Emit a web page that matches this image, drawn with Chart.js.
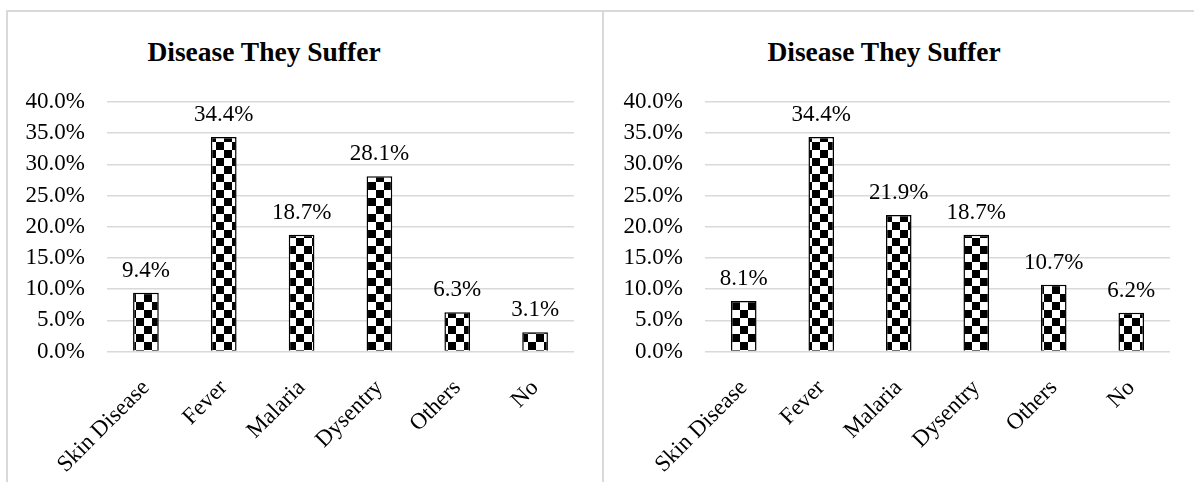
<!DOCTYPE html>
<html>
<head>
<meta charset="utf-8">
<script src="https://cdn.jsdelivr.net/npm/chart.js@4.4.1/dist/chart.umd.min.js"></script>
<style>
  html, body { margin: 0; padding: 0; background: #fff; }
  body { width: 1194px; height: 482px; position: relative; overflow: hidden; font-family: "Liberation Serif", "Times New Roman", serif; }
  .line { position: absolute; background: #d9d9d9; }
  .title { position: absolute; width: 400px; text-align: center; font-weight: bold; font-size: 27.5px; line-height: 28px; color: #000; }
  .box { position: absolute; }
</style>
</head>
<body>
<div class="line" style="left:6px; top:10px; width:1188px; height:2px;"></div>
<div class="line" style="left:6px; top:10px; width:2px; height:472px;"></div>
<div class="line" style="left:602px; top:10px; width:2px; height:472px;"></div>

<div class="title" style="left:64px; top:38px;">Disease They Suffer</div>
<div class="title" style="left:684px; top:38px;">Disease They Suffer</div>

<div class="box" style="left:8px; top:70px; width:594px; height:412px;"><canvas id="chartLeft"></canvas></div>
<div class="box" style="left:604px; top:70px; width:590px; height:412px;"><canvas id="chartRight"></canvas></div>

<script>
// categories + values (percent)
const categories = ['Skin Disease', 'Fever', 'Malaria', 'Dysentry', 'Others', 'No'];
const leftValues = [9.4, 34.4, 18.7, 28.1, 6.3, 3.1];
const rightValues = [8.1, 34.4, 21.9, 18.7, 10.7, 6.2];
const yTicks = [0, 5, 10, 15, 20, 25, 30, 35, 40];

const FONT = '"Liberation Serif", "Times New Roman", serif';

// checkerboard fill like the excel pattern
function checker() {
  const c = document.createElement('canvas');
  c.width = 16; c.height = 16;
  const g = c.getContext('2d');
  g.fillStyle = '#fff';
  g.fillRect(0, 0, 16, 16);
  g.fillStyle = '#000';
  g.fillRect(8, 0, 8, 8);
  g.fillRect(0, 8, 8, 8);
  return g.createPattern(c, 'repeat');
}

const valueLabels = {
  id: 'valueLabels',
  afterDatasetsDraw(chart) {
    const ctx = chart.ctx;
    const data = chart.data.datasets[0].data;
    ctx.save();
    ctx.font = '23px ' + FONT;
    ctx.fillStyle = '#000';
    ctx.textAlign = 'center';
    ctx.textBaseline = 'alphabetic';
    chart.getDatasetMeta(0).data.forEach((bar, i) => {
      ctx.fillText(data[i].toFixed(1) + '%', bar.x, bar.y - 16);
    });
    ctx.restore();
  },
};

function makeChart(id, values, yWidth, padRight) {
  const ctx = document.getElementById(id).getContext('2d');
  return new Chart(ctx, {
    type: 'bar',
    data: {
      labels: categories,
      datasets: [{
        data: values,
        backgroundColor: checker(),
        borderColor: '#000',
        borderWidth: 1.5,
        barPercentage: 0.33,
        categoryPercentage: 1,
      }],
    },
    options: {
      responsive: true,
      maintainAspectRatio: false,
      animation: false,
      events: [],
      layout: { padding: { top: 32, right: padRight, left: 0, bottom: 0 } },
      plugins: { legend: { display: false }, title: { display: false }, tooltip: { enabled: false } },
      scales: {
        x: {
          grid: { display: false },
          border: { display: false },
          ticks: { color: '#000', font: { family: FONT, size: 23 }, minRotation: 45, maxRotation: 45, autoSkip: false, padding: 15 },
          afterFit(s) { s.height = 130.5; },
        },
        y: {
          min: yTicks[0],
          max: yTicks[yTicks.length - 1],
          afterBuildTicks(s) { s.ticks = yTicks.map((v) => ({ value: v })); },
          grid: { color: '#d9d9d9', lineWidth: 1.5, drawTicks: false },
          border: { display: false },
          ticks: { color: '#000', font: { family: FONT, size: 23 }, padding: 22, callback: (v) => Number(v).toFixed(1) + '%' },
          afterFit(s) {
            s.width = yWidth;
            s.paddingTop = 0;
            s.paddingBottom = 0;
          },
        },
      },
    },
    plugins: [valueLabels],
  });
}

makeChart('chartLeft', leftValues, 99, 28);
makeChart('chartRight', rightValues, 101, 24);
</script>
</body>
</html>
